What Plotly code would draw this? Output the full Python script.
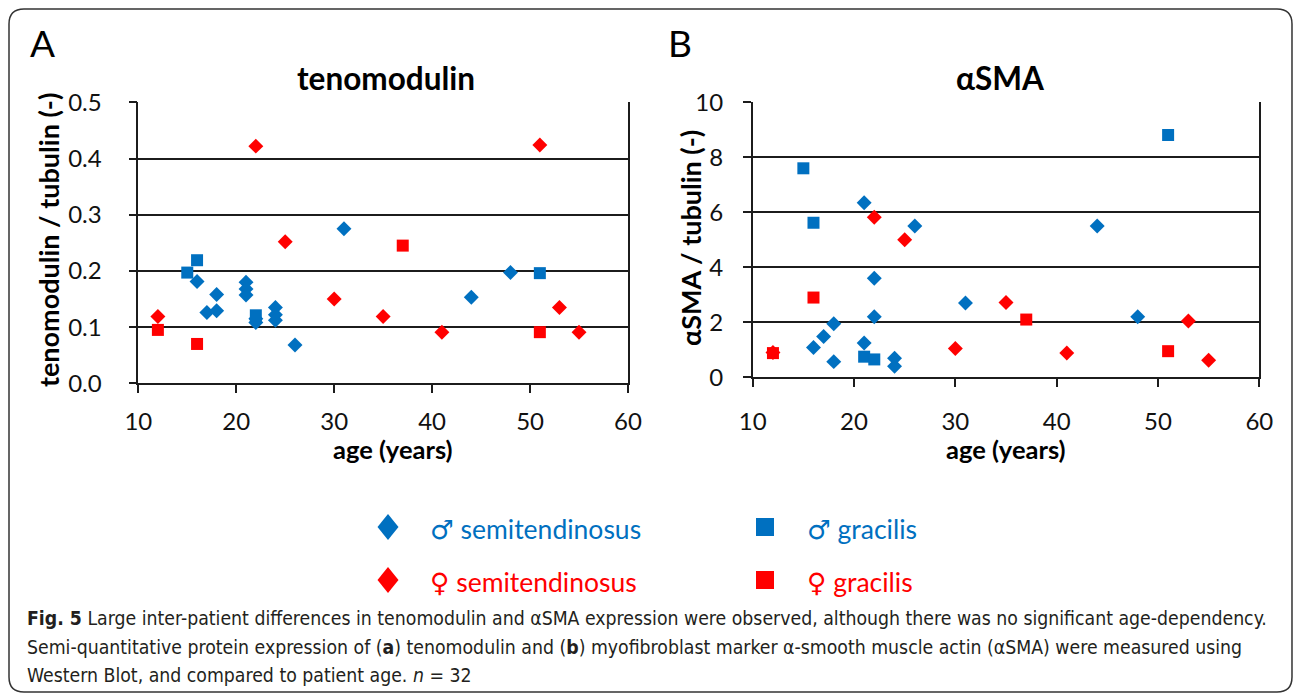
import plotly.graph_objects as go

# ---- data ----
# panel A: tenomodulin / tubulin
age_m_semi_a = [16, 17, 18, 18, 21, 21, 21, 22, 22, 24, 24, 24, 26, 31, 44, 48]
tnmd_m_semi = [0.181, 0.126, 0.158, 0.129, 0.180, 0.168, 0.157, 0.115, 0.108, 0.135, 0.122, 0.112, 0.068, 0.275, 0.153, 0.197]
age_m_grac_a = [15, 16, 22, 51]
tnmd_m_grac = [0.197, 0.219, 0.121, 0.196]
age_f_semi_a = [12, 22, 25, 30, 35, 41, 51, 53, 55]
tnmd_f_semi = [0.119, 0.422, 0.252, 0.150, 0.119, 0.091, 0.424, 0.135, 0.091]
age_f_grac_a = [12, 16, 37, 51]
tnmd_f_grac = [0.095, 0.070, 0.245, 0.091]

# panel B: aSMA / tubulin
age_m_semi_b = [16, 17, 18, 18, 21, 21, 22, 22, 24, 24, 26, 31, 44, 48]
asma_m_semi = [1.08, 1.48, 1.95, 0.57, 6.35, 1.25, 3.60, 2.20, 0.69, 0.40, 5.50, 2.70, 5.50, 2.20]
age_m_grac_b = [15, 16, 21, 22, 51]
asma_m_grac = [7.60, 5.62, 0.75, 0.65, 8.81]
age_f_semi_b = [12, 22, 25, 30, 35, 41, 53, 55]
asma_f_semi = [0.90, 5.82, 5.00, 1.05, 2.72, 0.88, 2.05, 0.62]
age_f_grac_b = [12, 16, 37, 51]
asma_f_grac = [0.88, 2.90, 2.10, 0.95]

legend_labels = ["\u2642 semitendinosus", "\u2642 gracilis", "\u2640 semitendinosus", "\u2640 gracilis"]

BLUE = "#0070C0"
RED = "#FF0000"
LINE = "#1c1c1c"
FONT = "Lato, Open Sans, DejaVu Sans, sans-serif"
W, H = 1295, 695


def px(x):
    return x / W


def py(y):
    return 1 - y / H


fig = go.Figure()

series = [
    (age_m_semi_a, tnmd_m_semi, "diamond", BLUE, 11.5, "x", "y"),
    (age_m_grac_a, tnmd_m_grac, "square", BLUE, 12, "x", "y"),
    (age_f_semi_a, tnmd_f_semi, "diamond", RED, 11.5, "x", "y"),
    (age_f_grac_a, tnmd_f_grac, "square", RED, 12, "x", "y"),
    (age_m_semi_b, asma_m_semi, "diamond", BLUE, 11.5, "x2", "y2"),
    (age_m_grac_b, asma_m_grac, "square", BLUE, 12, "x2", "y2"),
    (age_f_semi_b, asma_f_semi, "diamond", RED, 11.5, "x2", "y2"),
    (age_f_grac_b, asma_f_grac, "square", RED, 12, "x2", "y2"),
]
for xs, ys, sym, col, sz, xa, ya in series:
    fig.add_trace(go.Scatter(
        x=xs, y=ys, mode="markers", xaxis=xa, yaxis=ya, showlegend=False,
        marker=dict(symbol=sym, size=sz, color=col, line=dict(width=0)),
        cliponaxis=False,
    ))

axis_common = dict(
    showline=True, linecolor=LINE, linewidth=1.6,
    showgrid=False, zeroline=False, automargin=False,
    ticks="outside", ticklen=8, tickwidth=1.6, tickcolor=LINE,
    tickfont=dict(family=FONT, size=24, color="#111111"),
)
ygrid = dict(showgrid=True, gridcolor=LINE, gridwidth=1.6, mirror=True)

fig.update_layout(
    width=W, height=H, autosize=False,
    margin=dict(l=0, r=0, t=0, b=0, pad=0, autoexpand=False),
    paper_bgcolor="white", plot_bgcolor="rgba(0,0,0,0)",
    showlegend=False,
    xaxis=dict(axis_common, domain=[px(138.3), px(628)], range=[10, 60], dtick=10, anchor="y",
               ticklabelstandoff=8),
    yaxis=dict(axis_common, **ygrid, domain=[py(383.3), py(102.3)], range=[0, 0.5], dtick=0.1,
               tickformat=".1f", anchor="x", ticklabelstandoff=22),
    xaxis2=dict(axis_common, domain=[px(752.7), px(1259.3)], range=[10, 60], dtick=10, anchor="y2",
                ticklabelstandoff=14),
    yaxis2=dict(axis_common, **ygrid, domain=[py(377.3), py(102.3)], range=[0, 10], dtick=2,
                anchor="x2", ticklabelstandoff=15),
)

ann = []


def text(x, y, s, size, bold=False, color="black", angle=0, xanchor="center", family=FONT):
    ann.append(dict(
        x=px(x), y=py(y), xref="paper", yref="paper", text=f"<b>{s}</b>" if bold else s,
        showarrow=False, textangle=angle, xanchor=xanchor, yanchor="middle",
        font=dict(family=family, size=size, color=color),
    ))


text(42, 42, "A", 37)
text(680, 42, "B", 37)
text(386, 78, "tenomodulin", 31.5, bold=True)
text(1000, 78, "\u03b1SMA", 31.5, bold=True)
text(48, 240, "tenomodulin / tubulin (-)", 27, bold=True, angle=-90)
text(690, 238, "\u03b1SMA / tubulin (-)", 27, bold=True, angle=-90)
text(393, 449, "age (years)", 25.5, bold=True)
text(1006, 449, "age (years)", 25.5, bold=True)

# legend (custom 2x2 layout)
legend_pos = [(388, 527, "diamond", BLUE), (765, 527, "square", BLUE),
              (388, 580, "diamond", RED), (765, 580, "square", RED)]
shapes = []
for (cx, cy, sym, col), lab in zip(legend_pos, legend_labels):
    if sym == "diamond":
        pts = [(cx, cy - 13), (cx + 10.5, cy), (cx, cy + 13), (cx - 10.5, cy)]
    else:
        pts = [(cx - 9, cy - 9), (cx + 9, cy - 9), (cx + 9, cy + 9), (cx - 9, cy + 9)]
    path = "M " + " L ".join(f"{px(a):.5f},{py(b):.5f}" for a, b in pts) + " Z"
    shapes.append(dict(type="path", xref="paper", yref="paper", path=path,
                       fillcolor=col, line=dict(width=0)))
    text(cx + 40, cy + 2, lab, 26.5, color=col, xanchor="left")

# caption
CAP = "Liberation Sans Narrow, DejaVu Sans Condensed, Roboto Condensed, Liberation Sans, sans-serif"
cap_col = "#231f20"
text(25, 618, "<b>Fig. 5</b> Large inter-patient differences in tenomodulin and \u03b1SMA expression were observed, "
     "although there was no significant age-dependency.", 19.3, color=cap_col, xanchor="left", family=CAP)
text(25, 647, "Semi-quantitative protein expression of (<b>a</b>) tenomodulin and (<b>b</b>) myofibroblast marker "
     "\u03b1-smooth muscle actin (\u03b1SMA) were measured using", 19.3, color=cap_col, xanchor="left", family=CAP)
text(25, 675, "Western Blot, and compared to patient age. <i>n</i> = 32", 19.3, color=cap_col, xanchor="left",
     family=CAP)

# rounded frame around the figure
x0, y0, x1, y1, r = 9, 9, 1292, 692, 15
frame = [("M", x0 + r, y0), ("L", x1 - r, y0), ("Q", x1, y0, x1, y0 + r), ("L", x1, y1 - r),
         ("Q", x1, y1, x1 - r, y1), ("L", x0 + r, y1), ("Q", x0, y1, x0, y1 - r), ("L", x0, y0 + r),
         ("Q", x0, y0, x0 + r, y0)]
parts = []
for seg in frame:
    cmd, coords = seg[0], seg[1:]
    xy = [f"{px(coords[i]):.5f},{py(coords[i + 1]):.5f}" for i in range(0, len(coords), 2)]
    parts.append(cmd + " " + " ".join(xy))
shapes.append(dict(type="path", xref="paper", yref="paper", path=" ".join(parts) + " Z",
                   line=dict(color="#333333", width=1.5)))

fig.update_layout(annotations=ann, shapes=shapes)
fig.write_html("out.html", config={"displayModeBar": False},
               post_script="document.body.style.margin='0';document.body.style.overflow='hidden';")
